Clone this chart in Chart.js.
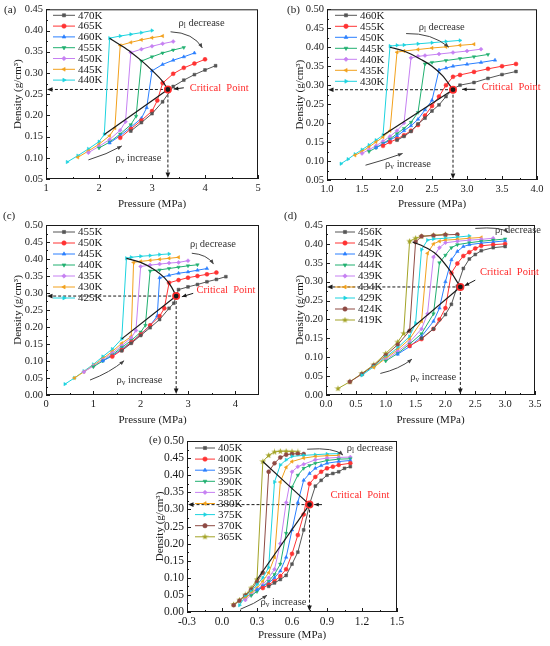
<!DOCTYPE html>
<html>
<head>
<meta charset="utf-8">
<title>Density vs pressure isotherms</title>
<script src="https://cdn.jsdelivr.net/npm/chart.js@4.4.1/dist/chart.umd.min.js"></script>
<style>
  html, body { margin: 0; background: #fff; }
  body { position: relative; width: 550px; height: 646px; overflow: hidden; }
  canvas { position: absolute; }
</style>
</head>
<body>
<canvas id="pa" width="275" height="212" style="left:0;top:0"></canvas>
<canvas id="pb" width="275" height="212" style="left:275px;top:0"></canvas>
<canvas id="pc" width="275" height="226" style="left:0;top:205px"></canvas>
<canvas id="pd" width="275" height="226" style="left:275px;top:205px"></canvas>
<canvas id="pe" width="290" height="221" style="left:130px;top:425px"></canvas>
<script>
// ---- (a) ----
const aTemps = ['470K', '465K', '460K', '455K', '450K', '445K', '440K'];
const a470 = [[2.6,0.163],[2.8,0.183],[3.0,0.204],[3.2,0.232],[3.4,0.268],[3.6,0.283],[3.8,0.296],[4.0,0.307],[4.2,0.317]];
const a465 = [[2.4,0.147],[2.6,0.168],[2.8,0.188],[3.0,0.21],[3.1,0.235],[3.2,0.276],[3.4,0.298],[3.6,0.312],[3.8,0.322],[4.0,0.332]];
const a460 = [[2.2,0.135],[2.4,0.152],[2.6,0.172],[2.8,0.193],[2.9,0.218],[3.0,0.305],[3.2,0.32],[3.4,0.33],[3.6,0.338],[3.8,0.347]];
const a455 = [[2.0,0.123],[2.2,0.137],[2.4,0.156],[2.6,0.178],[2.7,0.198],[2.8,0.328],[3.0,0.338],[3.2,0.347],[3.4,0.354],[3.6,0.36]];
const a450 = [[1.8,0.112],[2.0,0.127],[2.2,0.143],[2.4,0.165],[2.5,0.185],[2.6,0.348],[2.8,0.356],[3.0,0.363],[3.2,0.369],[3.4,0.374]];
const a445 = [[1.6,0.101],[1.8,0.116],[2.0,0.132],[2.2,0.152],[2.3,0.17],[2.4,0.365],[2.6,0.372],[2.8,0.378],[3.0,0.383],[3.2,0.387]];
const a440 = [[1.4,0.09],[1.6,0.105],[1.8,0.121],[2.0,0.138],[2.1,0.155],[2.2,0.382],[2.4,0.387],[2.6,0.391],[2.8,0.395],[3.0,0.40]];
const aCrit = [3.3, 0.261];
const aLiquid = [[2.2,0.382],[2.4,0.366],[2.6,0.349],[2.8,0.329],[3.0,0.306],[3.2,0.28],[3.3,0.261]];
const aVapour = [[2.1,0.155],[3.3,0.261]];
const aXTicks = [1, 2, 3, 4, 5];
const aYTicks = [0.05, 0.10, 0.15, 0.20, 0.25, 0.30, 0.35, 0.40, 0.45];

// ---- (b) ----
const bTemps = ['460K', '455K', '450K', '445K', '440K', '435K', '430K'];
const b460 = [[2.0,0.155],[2.1,0.165],[2.2,0.178],[2.3,0.198],[2.4,0.213],[2.5,0.232],[2.6,0.248],[2.7,0.27],[2.8,0.29],[2.9,0.3],[3.1,0.307],[3.3,0.318],[3.5,0.328],[3.7,0.336]];
const b455 = [[1.8,0.14],[1.9,0.15],[2.0,0.158],[2.1,0.168],[2.2,0.18],[2.3,0.195],[2.4,0.22],[2.5,0.245],[2.6,0.27],[2.7,0.3],[2.8,0.322],[2.9,0.327],[3.1,0.335],[3.3,0.343],[3.5,0.35],[3.7,0.356]];
const b450 = [[1.7,0.135],[1.8,0.145],[1.9,0.155],[2.0,0.166],[2.1,0.18],[2.2,0.193],[2.3,0.21],[2.4,0.235],[2.5,0.26],[2.6,0.34],[2.7,0.345],[2.8,0.35],[3.0,0.355],[3.2,0.36],[3.4,0.366]];
const b445 = [[1.6,0.125],[1.7,0.135],[1.8,0.146],[1.9,0.158],[2.0,0.172],[2.1,0.186],[2.2,0.202],[2.3,0.228],[2.4,0.356],[2.5,0.36],[2.7,0.365],[2.9,0.37],[3.1,0.375],[3.3,0.381]];
const b440 = [[1.5,0.12],[1.6,0.13],[1.7,0.14],[1.8,0.152],[1.9,0.165],[2.0,0.18],[2.1,0.2],[2.2,0.372],[2.3,0.376],[2.4,0.378],[2.6,0.382],[2.8,0.386],[3.0,0.39],[3.2,0.395]];
const b435 = [[1.4,0.115],[1.5,0.125],[1.6,0.137],[1.7,0.15],[1.8,0.163],[1.9,0.18],[2.0,0.387],[2.1,0.39],[2.3,0.394],[2.5,0.398],[2.7,0.401],[2.9,0.405],[3.1,0.408]];
const b430 = [[1.2,0.093],[1.3,0.105],[1.4,0.118],[1.5,0.13],[1.6,0.142],[1.7,0.155],[1.8,0.168],[1.9,0.403],[2.0,0.405],[2.1,0.406],[2.3,0.409],[2.5,0.412],[2.7,0.415],[2.9,0.418]];
const bCrit = [2.8, 0.288];
const bLiquid = [[1.9,0.40],[2.1,0.39],[2.35,0.367],[2.5,0.35],[2.65,0.325],[2.8,0.288]];
const bVapour = [[1.8,0.168],[2.8,0.288]];
const bXTicks = [1.0, 1.5, 2.0, 2.5, 3.0, 3.5, 4.0];
const bYTicks = [0.05, 0.10, 0.15, 0.20, 0.25, 0.30, 0.35, 0.40, 0.45, 0.50];

// ---- (c) ----
const cTemps = ['455K', '450K', '445K', '440K', '435K', '430K', '425K'];
const c455 = [[1.6,0.13],[1.8,0.152],[2.0,0.175],[2.2,0.198],[2.4,0.222],[2.6,0.255],[2.7,0.27],[2.8,0.31],[3.0,0.318],[3.2,0.325],[3.4,0.333],[3.6,0.34],[3.8,0.348]];
const c450 = [[1.4,0.113],[1.6,0.132],[1.8,0.155],[2.0,0.178],[2.2,0.205],[2.4,0.232],[2.5,0.255],[2.6,0.33],[2.8,0.338],[3.0,0.345],[3.2,0.35],[3.4,0.355],[3.6,0.36]];
const c445 = [[1.2,0.1],[1.4,0.115],[1.6,0.135],[1.8,0.155],[2.0,0.178],[2.2,0.205],[2.35,0.232],[2.4,0.345],[2.6,0.352],[2.8,0.358],[3.0,0.362],[3.2,0.367],[3.4,0.372]];
const c440 = [[1.0,0.083],[1.2,0.1],[1.4,0.118],[1.6,0.14],[1.8,0.16],[2.0,0.185],[2.1,0.205],[2.2,0.365],[2.4,0.368],[2.6,0.372],[2.8,0.376],[3.0,0.38],[3.2,0.383]];
const c435 = [[0.8,0.068],[1.0,0.085],[1.2,0.103],[1.4,0.123],[1.6,0.145],[1.8,0.168],[1.9,0.19],[2.0,0.378],[2.2,0.382],[2.4,0.385],[2.6,0.388],[2.8,0.39],[3.0,0.395]];
const c430 = [[0.6,0.05],[0.8,0.068],[1.0,0.087],[1.2,0.107],[1.4,0.128],[1.6,0.152],[1.8,0.172],[1.85,0.39],[2.0,0.393],[2.2,0.396],[2.4,0.399],[2.6,0.402],[2.8,0.405]];
const c425 = [[0.4,0.032],[0.6,0.05],[0.8,0.07],[1.0,0.09],[1.2,0.113],[1.4,0.135],[1.6,0.165],[1.7,0.402],[1.8,0.405],[2.0,0.408],[2.2,0.41],[2.4,0.413],[2.6,0.415]];
const cCrit = [2.75, 0.291];
const cLiquid = [[1.7,0.402],[2.0,0.39],[2.3,0.368],[2.5,0.345],[2.65,0.318],[2.75,0.291]];
const cVapour = [[1.6,0.165],[2.75,0.291]];
const cXTicks = [0, 1, 2, 3, 4];
const cYTicks = [0.00, 0.05, 0.10, 0.15, 0.20, 0.25, 0.30, 0.35, 0.40, 0.45, 0.50];

// ---- (d) ----
const dTemps = ['456K', '454K', '449K', '444K', '439K', '434K', '429K', '424K', '419K'];
const d456 = [[1.6,0.15],[1.8,0.175],[2.0,0.213],[2.1,0.24],[2.2,0.288],[2.3,0.335],[2.4,0.36],[2.5,0.372],[2.6,0.382],[2.8,0.39],[3.0,0.393]];
const d454 = [[1.4,0.13],[1.6,0.148],[1.8,0.175],[1.9,0.2],[2.0,0.23],[2.1,0.323],[2.2,0.348],[2.3,0.368],[2.4,0.378],[2.5,0.388],[2.6,0.395],[2.8,0.398],[3.0,0.40]];
const d449 = [[1.2,0.108],[1.4,0.128],[1.6,0.155],[1.8,0.195],[1.9,0.23],[2.0,0.3],[2.1,0.358],[2.2,0.38],[2.3,0.393],[2.4,0.398],[2.6,0.402],[2.8,0.405],[3.0,0.408]];
const d444 = [[1.0,0.09],[1.2,0.11],[1.4,0.135],[1.6,0.162],[1.8,0.215],[1.9,0.35],[2.0,0.37],[2.1,0.39],[2.2,0.398],[2.4,0.403],[2.6,0.407],[2.8,0.41],[3.0,0.413]];
const d439 = [[1.0,0.093],[1.2,0.115],[1.4,0.14],[1.6,0.175],[1.7,0.215],[1.8,0.365],[1.9,0.39],[2.0,0.403],[2.2,0.407],[2.4,0.41],[2.6,0.412],[2.8,0.415]];
const d434 = [[0.8,0.073],[1.0,0.097],[1.2,0.12],[1.4,0.148],[1.6,0.195],[1.7,0.375],[1.8,0.40],[1.9,0.407],[2.0,0.41],[2.2,0.412],[2.4,0.415],[2.6,0.417]];
const d429 = [[0.6,0.052],[0.8,0.075],[1.0,0.10],[1.2,0.125],[1.4,0.155],[1.5,0.19],[1.6,0.385],[1.7,0.41],[1.8,0.413],[2.0,0.415],[2.2,0.418],[2.4,0.421]];
const d424 = [[0.4,0.035],[0.6,0.055],[0.8,0.078],[1.0,0.105],[1.2,0.133],[1.4,0.17],[1.5,0.405],[1.6,0.42],[1.8,0.422],[2.0,0.424],[2.2,0.425]];
const d419 = [[0.2,0.017],[0.4,0.035],[0.6,0.057],[0.8,0.08],[1.0,0.11],[1.2,0.14],[1.3,0.163],[1.4,0.407],[1.5,0.415],[1.6,0.42],[1.8,0.423],[2.0,0.425]];
const dCrit = [2.25, 0.286];
const dLiquid = [[1.45,0.405],[1.65,0.392],[1.85,0.372],[2.05,0.335],[2.25,0.286]];
const dVapour = [[1.35,0.165],[2.25,0.286]];
const dXTicks = [0.0, 0.5, 1.0, 1.5, 2.0, 2.5, 3.0, 3.5];
const dYTicks = [0.00, 0.05, 0.10, 0.15, 0.20, 0.25, 0.30, 0.35, 0.40, 0.45];

// ---- (e) ----
const eTemps = ['405K', '400K', '395K', '390K', '385K', '380K', '375K', '370K', '365K'];
const e405 = [[0.4,0.075],[0.45,0.085],[0.5,0.095],[0.55,0.107],[0.6,0.14],[0.65,0.175],[0.7,0.24],[0.75,0.315],[0.8,0.368],[0.85,0.385],[0.9,0.40],[0.95,0.405],[1.0,0.41],[1.05,0.42],[1.1,0.425]];
const e400 = [[0.35,0.07],[0.4,0.08],[0.45,0.09],[0.5,0.105],[0.55,0.125],[0.6,0.17],[0.65,0.225],[0.7,0.285],[0.75,0.375],[0.8,0.395],[0.85,0.41],[0.9,0.42],[0.95,0.425],[1.0,0.43],[1.1,0.435]];
const e395 = [[0.3,0.065],[0.35,0.075],[0.4,0.085],[0.45,0.10],[0.5,0.12],[0.55,0.16],[0.6,0.24],[0.65,0.32],[0.7,0.385],[0.75,0.405],[0.8,0.42],[0.85,0.428],[0.9,0.435],[1.0,0.44],[1.1,0.443]];
const e390 = [[0.25,0.048],[0.3,0.06],[0.35,0.075],[0.4,0.09],[0.45,0.11],[0.5,0.14],[0.55,0.23],[0.6,0.365],[0.65,0.40],[0.7,0.42],[0.75,0.428],[0.8,0.435],[0.9,0.443],[1.0,0.447],[1.1,0.448]];
const e385 = [[0.2,0.035],[0.25,0.05],[0.3,0.065],[0.35,0.08],[0.4,0.10],[0.45,0.125],[0.5,0.20],[0.55,0.32],[0.6,0.41],[0.65,0.425],[0.7,0.432],[0.8,0.445],[0.9,0.45],[1.0,0.452],[1.1,0.453]];
const e380 = [[0.2,0.04],[0.25,0.055],[0.3,0.07],[0.35,0.09],[0.4,0.115],[0.45,0.16],[0.5,0.38],[0.55,0.423],[0.6,0.44],[0.7,0.45],[0.8,0.455],[0.9,0.457],[1.0,0.458]];
const e375 = [[0.15,0.02],[0.2,0.045],[0.25,0.06],[0.3,0.08],[0.35,0.10],[0.4,0.13],[0.45,0.38],[0.5,0.43],[0.55,0.445],[0.6,0.455],[0.7,0.458],[0.8,0.46],[0.9,0.462],[1.0,0.463]];
const e370 = [[0.1,0.02],[0.15,0.033],[0.2,0.048],[0.25,0.065],[0.3,0.088],[0.35,0.115],[0.4,0.41],[0.45,0.435],[0.5,0.452],[0.55,0.46],[0.6,0.462],[0.65,0.463],[0.7,0.462]];
const e365 = [[0.1,0.022],[0.15,0.035],[0.2,0.05],[0.25,0.07],[0.3,0.095],[0.35,0.44],[0.4,0.458],[0.45,0.468],[0.5,0.47],[0.55,0.47],[0.6,0.469],[0.65,0.468]];
const eCrit = [0.75, 0.314];
const eLiquid = [[0.35,0.44],[0.75,0.314]];
const eVapour = [[0.3,0.095],[0.75,0.314]];
const eXTicks = [-0.3, 0.0, 0.3, 0.6, 0.9, 1.2, 1.5];
const eYTicks = [0.00, 0.05, 0.10, 0.15, 0.20, 0.25, 0.30, 0.35, 0.40, 0.45, 0.50];

// ---- styling ----
const SERIF = '"Liberation Serif", "DejaVu Serif", serif';
const INK = '#1a1a1a';
const COLORS = ['#555555', '#ff3333', '#2a7fff', '#20b070', '#c680f2', '#f2a11c', '#1dd3df', '#8e4a43', '#a3a326'];

function starMark(color) {
  const c = document.createElement('canvas');
  c.width = c.height = 7;
  const g = c.getContext('2d');
  g.fillStyle = color;
  g.beginPath();
  for (let i = 0; i < 10; i++) {
    const r = i % 2 ? 1.4 : 3.4, a = -Math.PI / 2 + i * Math.PI / 5;
    g.lineTo(3.5 + r * Math.cos(a), 3.6 + r * Math.sin(a));
  }
  g.closePath();
  g.fill();
  return c;
}
const MARKS = [
  ['rect', 0], ['circle', 0], ['triangle', 0], ['triangle', 180], ['rectRot', 0],
  ['triangle', 270], ['triangle', 90], ['circle', 0], [starMark(COLORS[8]), 0]
];

function arrowHead(ctx, x1, y1, x2, y2, len) {
  const a = Math.atan2(y2 - y1, x2 - x1);
  ctx.beginPath();
  ctx.moveTo(x2, y2);
  ctx.lineTo(x2 - len * Math.cos(a - 0.4), y2 - len * Math.sin(a - 0.4));
  ctx.lineTo(x2 - len * Math.cos(a + 0.4), y2 - len * Math.sin(a + 0.4));
  ctx.closePath();
  ctx.fill();
}

function subText(ctx, x, y, sub, rest, fs) {
  ctx.font = fs + 'px ' + SERIF;
  ctx.fillText('\u03c1', x, y);
  x += ctx.measureText('\u03c1').width;
  ctx.font = (fs * 0.7) + 'px ' + SERIF;
  ctx.fillText(sub, x, y + fs * 0.3);
  x += ctx.measureText(sub).width;
  ctx.font = fs + 'px ' + SERIF;
  ctx.fillText(rest, x, y);
}

function makeDecor(p) {
  return {
    id: 'decor',
    beforeDatasetsDraw(chart) {
      const { ctx, chartArea: ca, scales: { x, y } } = chart;
      const cx = x.getPixelForValue(p.crit[0]), cy = y.getPixelForValue(p.crit[1]);
      ctx.save();
      ctx.strokeStyle = INK; ctx.fillStyle = INK; ctx.lineWidth = 1;
      ctx.setLineDash([3, 2]);
      ctx.beginPath();
      ctx.moveTo(cx, cy); ctx.lineTo(ca.left + 6, cy);
      ctx.moveTo(cx, cy); ctx.lineTo(cx, ca.bottom - 6);
      ctx.stroke();
      ctx.setLineDash([]);
      arrowHead(ctx, cx, cy, ca.left + 1, cy, 6);
      arrowHead(ctx, cx, cy, cx, ca.bottom - 1, 6);
      ctx.restore();
    },
    afterDatasetsDraw(chart) {
      const { ctx, chartArea: ca, scales: { x, y } } = chart;
      const P = pt => [x.getPixelForValue(pt[0]), y.getPixelForValue(pt[1])];
      ctx.save();
      // frame and inward ticks
      ctx.strokeStyle = INK; ctx.lineWidth = 1;
      ctx.strokeRect(ca.left + 0.5, ca.top + 0.5, ca.width - 1, ca.height - 1);
      ctx.beginPath();
      const xv = x.ticks.map(t => t.value), yv = y.ticks.map(t => t.value);
      xv.forEach((v, i) => {
        const X = Math.round(x.getPixelForValue(v)) + 0.5;
        ctx.moveTo(X, ca.bottom); ctx.lineTo(X, ca.bottom - 4);
        const nxt = i < xv.length - 1 ? xv[i + 1] : v + (v - xv[i - 1]);
        const m = Math.round(x.getPixelForValue((v + nxt) / 2)) + 0.5;
        if (m < ca.right - 1) { ctx.moveTo(m, ca.bottom); ctx.lineTo(m, ca.bottom - 2); }
      });
      yv.forEach((v, i) => {
        const Y = Math.round(y.getPixelForValue(v)) + 0.5;
        ctx.moveTo(ca.left, Y); ctx.lineTo(ca.left + 4, Y);
        if (i < yv.length - 1) {
          const m = Math.round(y.getPixelForValue((v + yv[i + 1]) / 2)) + 0.5;
          ctx.moveTo(ca.left, m); ctx.lineTo(ca.left + 2, m);
        }
      });
      ctx.stroke();

      // legend
      const lg = p.legend;
      let ly = ca.top + lg.dy;
      ctx.textBaseline = 'middle'; ctx.textAlign = 'left';
      chart.data.datasets.forEach(ds => {
        if (!ds.iso) return;
        const x0 = ca.left + lg.dx;
        ctx.strokeStyle = ds.borderColor; ctx.lineWidth = 1;
        ctx.beginPath(); ctx.moveTo(x0, ly); ctx.lineTo(x0 + lg.len, ly); ctx.stroke();
        ctx.fillStyle = ds.pointBackgroundColor; ctx.strokeStyle = ds.pointBorderColor; ctx.lineWidth = 0.6;
        Chart.helpers.drawPoint(ctx, { pointStyle: ds.pointStyle, rotation: ds.pointRotation, radius: 2.2, borderWidth: 0.6 }, x0 + lg.len / 2, ly);
        ctx.fillStyle = INK;
        ctx.font = p.lfs + 'px ' + SERIF;
        ctx.fillText(ds.label, x0 + lg.len + 3, ly + 0.5);
        ly += lg.row;
      });

      // annotations
      const n = p.notes;
      ctx.strokeStyle = '#444'; ctx.fillStyle = '#444'; ctx.lineWidth = 1;
      [n.decArrow, n.incArrow].forEach(a => {
        const s = P(a[0]), c = P(a[1]), e = P(a[2]);
        ctx.beginPath(); ctx.moveTo(s[0], s[1]); ctx.quadraticCurveTo(c[0], c[1], e[0], e[1]); ctx.stroke();
        arrowHead(ctx, c[0], c[1], e[0], e[1], 5);
      });
      ctx.strokeStyle = INK; ctx.fillStyle = INK;
      const cs = P(n.critArrow[0]), ce = P(n.critArrow[1]);
      ctx.beginPath(); ctx.moveTo(cs[0], cs[1]); ctx.lineTo(ce[0], ce[1]); ctx.stroke();
      arrowHead(ctx, cs[0], cs[1], ce[0], ce[1], 5);

      ctx.fillStyle = '#333';
      const dt = P(n.dec), it = P(n.inc), ct = P(n.crit);
      subText(ctx, dt[0], dt[1], 'l', ' decrease', p.afs);
      subText(ctx, it[0], it[1], 'v', ' increase', p.afs);
      ctx.fillStyle = '#ff2a2a';
      ctx.font = p.afs + 'px ' + SERIF;
      ctx.fillText('Critical  Point', ct[0], ct[1]);

      // panel tag
      ctx.fillStyle = INK;
      ctx.font = p.tfs + 'px ' + SERIF;
      ctx.fillText(p.tag, p.geo.tagX, p.geo.tagY);
      ctx.restore();
    }
  };
}

const PANELS = [
  { id: 'pa', tag: '(a)', temps: aTemps, series: [a470, a465, a460, a455, a450, a445, a440],
    crit: aCrit, liq: aLiquid, vap: aVapour, xt: aXTicks, yt: aYTicks, xr: [1, 5], yr: [0.05, 0.45], xDec: 0,
    geo: { w: 275, h: 212, L: 46, R: 258, T: 9, B: 179, yTitle: 18, xTitle: 204, tagX: 4, tagY: 10 },
    fs: 10.5, lfs: 11, afs: 10.5, tfs: 11,
    legend: { dx: 7, dy: 6, len: 22, row: 10.8 },
    notes: { dec: [3.5, 0.418], decArrow: [[3.35, 0.397], [3.78, 0.395], [3.95, 0.359]],
             crit: [3.71, 0.265], critArrow: [[3.6, 0.265], [3.41, 0.262]],
             inc: [2.31, 0.10], incArrow: [[1.8, 0.095], [2.15, 0.108], [2.43, 0.128]] } },
  { id: 'pb', tag: '(b)', temps: bTemps, series: [b460, b455, b450, b445, b440, b435, b430],
    crit: bCrit, liq: bLiquid, vap: bVapour, xt: bXTicks, yt: bYTicks, xr: [1, 4], yr: [0.05, 0.5], xDec: 1,
    geo: { w: 275, h: 212, L: 52, R: 262, T: 9, B: 180, yTitle: 25, xTitle: 204, tagX: 12, tagY: 10 },
    fs: 10.5, lfs: 11, afs: 10.5, tfs: 11,
    legend: { dx: 8, dy: 6, len: 22, row: 11 },
    notes: { dec: [2.31, 0.453], decArrow: [[2.13, 0.436], [2.5, 0.438], [2.74, 0.40]],
             crit: [3.21, 0.294], critArrow: [[3.12, 0.289], [2.93, 0.289]],
             inc: [1.83, 0.092], incArrow: [[1.55, 0.089], [1.81, 0.102], [2.08, 0.12]] } },
  { id: 'pc', tag: '(c)', temps: cTemps, series: [c455, c450, c445, c440, c435, c430, c425],
    crit: cCrit, liq: cLiquid, vap: cVapour, xt: cXTicks, yt: cYTicks, xr: [0, 4.5], yr: [0, 0.5], xDec: 0,
    geo: { w: 275, h: 226, L: 46, R: 259, T: 20, B: 190, yTitle: 18, xTitle: 215, tagX: 3, tagY: 11 },
    fs: 10.5, lfs: 11, afs: 10.5, tfs: 11,
    legend: { dx: 7, dy: 7, len: 22, row: 11 },
    notes: { dec: [3.04, 0.443], decArrow: [[3.08, 0.417], [3.4, 0.414], [3.54, 0.385]],
             crit: [3.18, 0.309], critArrow: [[3.11, 0.299], [2.87, 0.289]],
             inc: [1.49, 0.044], incArrow: [[0.93, 0.044], [1.35, 0.066], [1.65, 0.101]] } },
  { id: 'pd', tag: '(d)', temps: dTemps, series: [d456, d454, d449, d444, d439, d434, d429, d424, d419],
    crit: dCrit, liq: dLiquid, vap: dVapour, xt: dXTicks, yt: dYTicks, xr: [0, 3.5], yr: [0, 0.45], xDec: 1,
    geo: { w: 275, h: 226, L: 51, R: 260, T: 20, B: 190, yTitle: 25, xTitle: 215, tagX: 9, tagY: 11 },
    fs: 10.5, lfs: 11, afs: 10.5, tfs: 11,
    legend: { dx: 9, dy: 7, len: 20, row: 11 },
    notes: { dec: [2.83, 0.437], decArrow: [[2.5, 0.441], [2.92, 0.446], [3.05, 0.431]],
             crit: [2.58, 0.324], critArrow: [[2.5, 0.304], [2.32, 0.289]],
             inc: [1.41, 0.048], incArrow: [[0.91, 0.057], [1.22, 0.068], [1.44, 0.095]] } },
  { id: 'pe', tag: '(e)', temps: eTemps, series: [e405, e400, e395, e390, e385, e380, e375, e370, e365],
    crit: eCrit, liq: eLiquid, vap: eVapour, xt: eXTicks, yt: eYTicks, xr: [-0.3, 1.5], yr: [0, 0.5], xDec: 1,
    geo: { w: 290, h: 221, L: 57, R: 267, T: 16, B: 187, yTitle: 30, xTitle: 210, tagX: 19, tagY: 15 },
    fs: 11.5, lfs: 11, afs: 10.5, tfs: 11,
    legend: { dx: 8, dy: 7, len: 20, row: 11.1 },
    notes: { dec: [1.07, 0.479], decArrow: [[0.73, 0.476], [0.96, 0.482], [1.037, 0.459]],
             crit: [0.93, 0.342], critArrow: [[0.857, 0.314], [0.79, 0.314]],
             inc: [0.33, 0.029], incArrow: [[0.157, 0.008], [0.27, 0.022], [0.386, 0.049]] } }
];

PANELS.forEach(p => {
  const g = p.geo;
  const tickFont = { family: SERIF, size: p.fs };
  const titleFont = { family: SERIF, size: 11 };
  const lh = 11 * 1.2;
  const isoSets = p.series.map((pts, i) => ({
    label: p.temps[i], data: pts, iso: true,
    borderColor: COLORS[i], backgroundColor: COLORS[i],
    pointBackgroundColor: COLORS[i], pointBorderColor: COLORS[i],
    pointStyle: MARKS[i][0], pointRotation: MARKS[i][1],
    pointRadius: 2, pointBorderWidth: 0.5, borderWidth: 1, tension: 0
  }));
  const datasets = [
    { label: 'critical', data: [p.crit], showLine: false, pointRadius: 3.2,
      pointBackgroundColor: INK, pointBorderColor: '#ff2a2a', pointBorderWidth: 1.6 },
    { label: 'liquid', data: p.liq, borderColor: INK, borderWidth: 1.2, pointRadius: 0,
      cubicInterpolationMode: 'monotone' },
    { label: 'vapour', data: p.vap, borderColor: INK, borderWidth: 1.2, pointRadius: 0 }
  ].concat(isoSets);

  new Chart(document.getElementById(p.id), {
    type: 'line',
    data: { datasets },
    options: {
      responsive: false,
      animation: false,
      events: [],
      layout: { padding: { left: 0, top: g.T, right: g.w - g.R, bottom: 0 } },
      plugins: { legend: { display: false }, tooltip: { enabled: false } },
      scales: {
        x: {
          type: 'linear', min: p.xr[0], max: p.xr[1],
          afterBuildTicks: s => { s.ticks = p.xt.map(v => ({ value: v })); },
          afterFit: s => { s.height = g.h - g.B; },
          grid: { display: false, drawTicks: false },
          border: { display: false },
          ticks: { font: tickFont, color: INK, padding: 3, maxRotation: 0, autoSkip: false,
                   callback: v => Number(v).toFixed(p.xDec) },
          title: { display: true, text: 'Pressure (MPa)', font: titleFont, color: INK,
                   padding: { top: 0, bottom: g.h - g.xTitle - lh / 2 } }
        },
        y: {
          type: 'linear', min: p.yr[0], max: p.yr[1],
          afterBuildTicks: s => { s.ticks = p.yt.map(v => ({ value: v })); },
          afterFit: s => { s.width = g.L; },
          grid: { display: false, drawTicks: false },
          border: { display: false },
          ticks: { font: tickFont, color: INK, padding: 3, autoSkip: false,
                   callback: v => Number(v).toFixed(2) },
          title: { display: true, text: 'Density (g/cm\u00b3)', font: titleFont, color: INK,
                   padding: { top: g.yTitle - lh / 2, bottom: 0 } }
        }
      }
    },
    plugins: [makeDecor(p)]
  });
});
</script>
</body>
</html>
